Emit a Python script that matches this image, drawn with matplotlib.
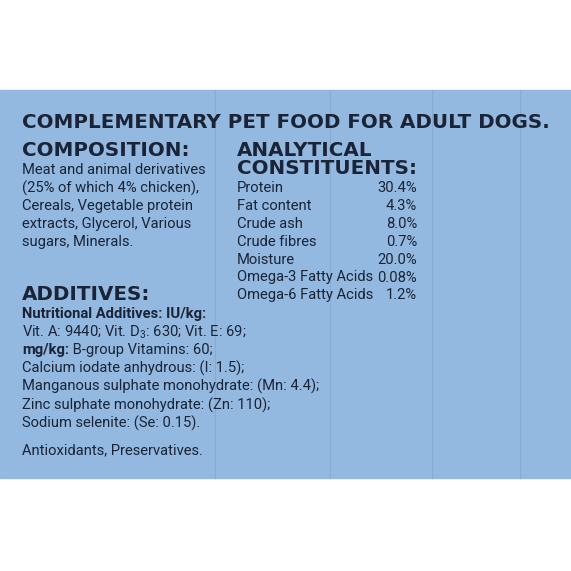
import matplotlib
matplotlib.use("Agg")
import matplotlib.pyplot as plt
from matplotlib.patches import Rectangle

title = "COMPLEMENTARY PET FOOD FOR ADULT DOGS."
composition = ["Meat and animal derivatives", "(25% of which 4% chicken),",
               "Cereals, Vegetable protein", "extracts, Glycerol, Various",
               "sugars, Minerals."]
constituents = ["Protein", "Fat content", "Crude ash", "Crude fibres", "Moisture",
                "Omega-3 Fatty Acids", "Omega-6 Fatty Acids"]
values = ["30.4%", "4.3%", "8.0%", "0.7%", "20.0%", "0.08%", "1.2%"]
additives = [("Nutritional Additives: IU/kg:", ""),
             ("", "Vit. A: 9440; Vit. D$_3$: 630; Vit. E: 69;"),
             ("mg/kg:", " B-group Vitamins: 60;"),
             ("", "Calcium iodate anhydrous: (I: 1.5);"),
             ("", "Manganous sulphate monohydrate: (Mn: 4.4);"),
             ("", "Zinc sulphate monohydrate: (Zn: 110);"),
             ("", "Sodium selenite: (Se: 0.15).")]
footer = "Antioxidants, Preservatives."

plt.rcParams['mathtext.fontset'] = 'custom'
plt.rcParams['mathtext.rm'] = 'Roboto'
fig = plt.figure(figsize=(5.71, 5.71), dpi=100)
ax = fig.add_axes([0, 0, 1, 1])
ax.set_xlim(0, 571); ax.set_ylim(571, 0); ax.axis('off')
ax.add_patch(Rectangle((0, 90), 571, 388, color='#93b9e0', zorder=0))
for x in [215, 330, 432, 520]:
    ax.plot([x, x], [90, 478], color='#86acd4', lw=0.8, zorder=1)

ink = '#1b2436'
head = dict(color=ink, fontweight='bold', family='DejaVu Sans', va='center')
ax.text(22, 122, title, fontsize=14.3, **head)
ax.text(22, 150, "COMPOSITION:", fontsize=14.3, **head)
ax.text(237, 150, "ANALYTICAL", fontsize=14.3, **head)
ax.text(237, 169, "CONSTITUENTS:", fontsize=14.3, **head)
ax.text(22, 295, "ADDITIVES:", fontsize=14.3, **head)

body = dict(color=ink, family=['Roboto', 'DejaVu Sans'], fontsize=10.6, va='center')
for i, s in enumerate(composition):
    ax.text(22, 170 + 18 * i, s, **body)
for i, (n, v) in enumerate(zip(constituents, values)):
    y = 188 + 17.9 * i
    ax.text(237, y, n, **body)
    ax.text(417, y, v, ha='right', **body)
fig.canvas.draw()
r = fig.canvas.get_renderer()
for i, (b, s) in enumerate(additives):
    y = 314 + 18.2 * i
    x = 22
    if b:
        t = ax.text(x, y, b, fontweight='bold', **body)
        bb = t.get_window_extent(r)
        x = 22 + bb.width
    if s:
        ax.text(x, y, s, **body)
ax.text(22, 450, footer, **body)
fig.savefig("out.png", dpi=100, facecolor='white')
